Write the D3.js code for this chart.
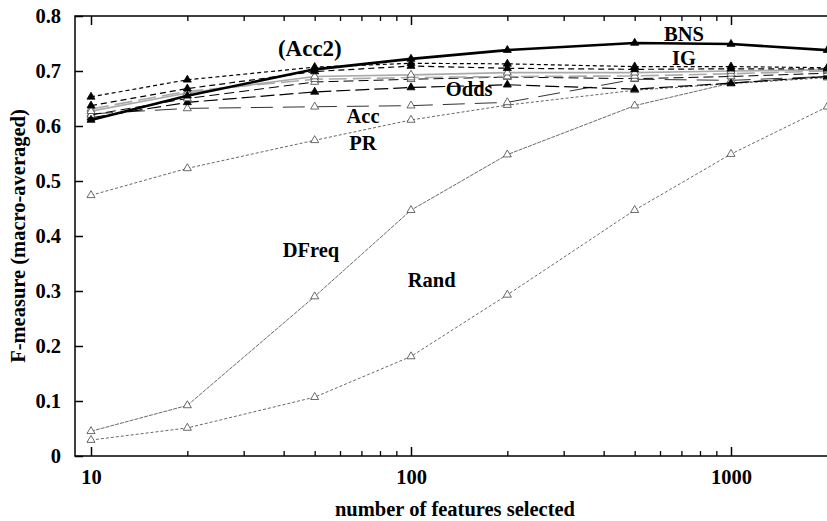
<!DOCTYPE html>
<html>
<head>
<meta charset="utf-8">
<script src="https://cdn.jsdelivr.net/npm/d3@7"></script>
<style>
  body { margin: 0; background: #fff; }
  svg text { font-family: "Liberation Serif", "DejaVu Serif", serif; font-weight: bold; fill: #000; }
</style>
</head>
<body>
<div id="chart"></div>
<script>
// number of features selected (x) and F-measure for each method
const features = [10, 20, 50, 100, 200, 500, 1000, 2000];
const bns   = [0.611, 0.655, 0.703, 0.722, 0.738, 0.751, 0.749, 0.738];
const acc2  = [0.653, 0.684, 0.707, 0.714, 0.713, 0.708, 0.708, 0.706];
const ig    = [0.637, 0.668, 0.699, 0.709, 0.705, 0.703, 0.704, 0.704];
const chi   = [0.627, 0.660, 0.690, 0.693, 0.697, 0.697, 0.700, 0.702];
const gray2 = [0.631, 0.663, 0.685, 0.688, 0.690, 0.691, 0.695, 0.700];
const blk2  = [0.620, 0.650, 0.680, 0.685, 0.689, 0.686, 0.690, 0.696];
const odds  = [0.615, 0.643, 0.662, 0.670, 0.675, 0.667, 0.678, 0.690];
const acc   = [0.622, 0.632, 0.635, 0.637, 0.643, 0.685, 0.683, 0.690];
const pr    = [0.474, 0.523, 0.574, 0.611, 0.638, 0.665, 0.677, 0.688];
const dfreq = [0.045, 0.092, 0.290, 0.447, 0.548, 0.637, 0.678, 0.690];
const rand  = [0.029, 0.051, 0.107, 0.181, 0.293, 0.447, 0.549, 0.635];

const yTicks = [0, 0.1, 0.2, 0.3, 0.4, 0.5, 0.6, 0.7, 0.8];
const xMajor = [10, 100, 1000];
const xMinor = [20, 30, 40, 50, 60, 70, 80, 90, 200, 300, 400, 500, 600, 700, 800, 900, 2000];

// label anchors in data units (x = features, y = F-measure at the baseline)
const labels = [
  { text: "BNS", x: 713, y: 0.7545, size: 20.5 },
  { text: "IG", x: 713, y: 0.711, size: 20.5 },
  { text: "(Acc2)", x: 48.3, y: 0.727, size: 23 },
  { text: "Odds", x: 152, y: 0.6545, size: 20.5 },
  { text: "Acc", x: 70.8, y: 0.6055, size: 20.5 },
  { text: "PR", x: 70.8, y: 0.556, size: 20.5 },
  { text: "DFreq", x: 48.7, y: 0.362, size: 20.5 },
  { text: "Rand", x: 116, y: 0.307, size: 20.5 }
];

const width = 827, height = 521;
const m = { left: 75, right: 827, top: 16, bottom: 456 };

const x = d3.scaleLog().domain([Math.pow(10, 0.95), Math.pow(10, 3.3)]).range([m.left, m.right]);
const y = d3.scaleLinear().domain([0, 0.8]).range([m.bottom, m.top]);

const svg = d3.select("#chart").append("svg")
  .attr("width", width)
  .attr("height", height);

svg.append("defs").append("clipPath").attr("id", "clip")
  .append("rect")
  .attr("x", m.left).attr("y", m.top - 10)
  .attr("width", m.right - m.left).attr("height", m.bottom - m.top + 10);

// series styles
const series = [
  { v: rand,  stroke: "#444", w: 0.8, dash: "3,2", fill: "#fff" },
  { v: dfreq, stroke: "#444", w: 0.8, dash: "4,1", fill: "#fff" },
  { v: pr,    stroke: "#555", w: 0.9, dash: "3,2", fill: "#fff" },
  { v: acc,   stroke: "#333", w: 1,   dash: "22,10", fill: "#fff" },
  { v: odds,  stroke: "#000", w: 1.2, dash: "14,5", fill: "#000" },
  { v: blk2,  stroke: "#000", w: 1,   dash: "10,5", fill: "#fff" },
  { v: gray2, stroke: "#aaa", w: 1.6, dash: "18,6", fill: "#fff" },
  { v: chi,   stroke: "#aaa", w: 1.6, dash: null, fill: "#fff" },
  { v: ig,    stroke: "#000", w: 1.2, dash: "6,4", fill: "#000" },
  { v: acc2,  stroke: "#000", w: 1.2, dash: "4,3", fill: "#000" },
  { v: bns,   stroke: "#000", w: 2.6, dash: null, fill: "#000" }
];

const line = d3.line()
  .x(function (d, i) { return x(features[i]); })
  .y(function (d) { return y(d); });

const plot = svg.append("g").attr("clip-path", "url(#clip)");
const tri = d3.symbol().type(d3.symbolTriangle).size(28);

series.forEach(function (s) {
  plot.append("path")
    .datum(s.v)
    .attr("d", line)
    .attr("fill", "none")
    .attr("stroke", s.stroke)
    .attr("stroke-width", s.w)
    .attr("stroke-dasharray", s.dash);
  plot.selectAll(null)
    .data(s.v)
    .enter().append("path")
    .attr("d", tri)
    .attr("transform", function (d, i) { return "translate(" + x(features[i]) + "," + y(d) + ")"; })
    .attr("fill", s.fill)
    .attr("stroke", s.fill === "#000" ? "#000" : "#444")
    .attr("stroke-width", 0.8);
});

// frame
svg.append("rect")
  .attr("x", m.left).attr("y", m.top)
  .attr("width", m.right - m.left + 10).attr("height", m.bottom - m.top)
  .attr("fill", "none").attr("stroke", "#000").attr("stroke-width", 1.5);

// y axis
const yAxis = svg.append("g")
  .attr("transform", "translate(" + m.left + ",0)")
  .call(d3.axisLeft(y).tickValues(yTicks).tickSize(-8).tickPadding(14)
    .tickFormat(function (d) { return d === 0 ? "0" : d3.format(".1f")(d); }));
yAxis.select(".domain").remove();
yAxis.selectAll("line").attr("stroke-width", 1.5);
yAxis.selectAll("text").style("font-size", "20.5px");

// x axis, bottom
const xAxis = svg.append("g")
  .attr("transform", "translate(0," + m.bottom + ")")
  .call(d3.axisBottom(x).tickValues(xMajor).tickSize(-9).tickFormat(d3.format("d")));
xAxis.select(".domain").remove();
xAxis.selectAll("line").attr("stroke-width", 1.5);
xAxis.selectAll("text").attr("y", 28).attr("dy", null).style("font-size", "20.5px");

const xMinorAxis = svg.append("g")
  .attr("transform", "translate(0," + m.bottom + ")")
  .call(d3.axisBottom(x).tickValues(xMinor).tickSize(-5).tickFormat(""));
xMinorAxis.select(".domain").remove();
xMinorAxis.selectAll("line").attr("stroke-width", 1.3);

// x axis, top (mirror ticks)
const xTop = svg.append("g")
  .attr("transform", "translate(0," + m.top + ")")
  .call(d3.axisTop(x).tickValues(xMajor).tickSize(-9).tickFormat(""));
xTop.select(".domain").remove();
xTop.selectAll("line").attr("stroke-width", 1.5);

const xTopMinor = svg.append("g")
  .attr("transform", "translate(0," + m.top + ")")
  .call(d3.axisTop(x).tickValues(xMinor).tickSize(-5).tickFormat(""));
xTopMinor.select(".domain").remove();
xTopMinor.selectAll("line").attr("stroke-width", 1.3);

// axis titles
svg.append("text")
  .attr("x", 455)
  .attr("y", 516)
  .attr("text-anchor", "middle")
  .style("font-size", "20.5px")
  .text("number of features selected");

svg.append("text")
  .attr("transform", "translate(25," + ((m.top + m.bottom) / 2) + ") rotate(-90)")
  .attr("text-anchor", "middle")
  .style("font-size", "20.5px")
  .text("F-measure (macro-averaged)");

// series labels
svg.selectAll(".lbl")
  .data(labels)
  .enter().append("text")
  .attr("class", "lbl")
  .attr("x", function (d) { return x(d.x); })
  .attr("y", function (d) { return y(d.y); })
  .attr("text-anchor", "middle")
  .style("font-size", function (d) { return d.size + "px"; })
  .text(function (d) { return d.text; });
</script>
</body>
</html>
